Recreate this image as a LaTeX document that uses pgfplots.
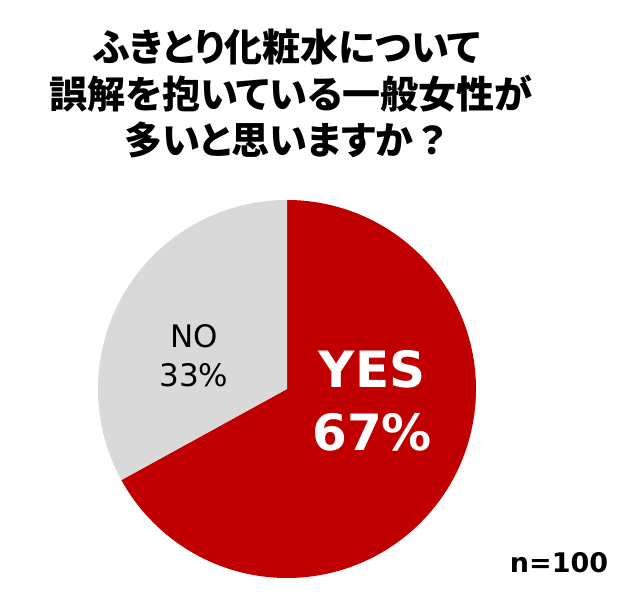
\documentclass[border=0pt]{standalone}
\usepackage{pgfplots}
\pgfplotsset{compat=1.18}
\usepackage{fontspec}
\setmainfont{DejaVu Sans}
\newfontfamily\jp[RawFeature=+palt, BoldFont={Noto Sans CJK JP Black}]{Noto Sans CJK JP}
\definecolor{yesred}{HTML}{C00000}
\definecolor{nogray}{HTML}{D9D9D9}
\def\yesval{67}
\def\noval{33}
\pgfmathsetmacro\yesstart{90-3.6*\yesval}
\pgfmathsetmacro\noend{90+3.6*\noval}
\begin{document}
\begin{tikzpicture}[x=1bp,y=1bp]
\path[use as bounding box] (0,0) rectangle (640,610);
\node[anchor=base, inner sep=0pt, font=\jp\bfseries\fontsize{38bp}{38bp}\selectfont] at (287,548) {ふきとり化粧水について};
\node[anchor=base, inner sep=0pt, font=\jp\bfseries\fontsize{38bp}{38bp}\selectfont] at (291,501) {誤解を抱いている一般女性が};
\node[anchor=base, inner sep=0pt, font=\jp\bfseries\fontsize{38bp}{38bp}\selectfont] at (285,455) {多いと思いますか\,？};
\node[anchor=base, inner sep=0pt, font=\bfseries\fontsize{27bp}{27bp}\selectfont] at (559,37) {n=100};
\begin{axis}[at={(287bp,221bp)}, anchor=origin, scale only axis, width=378bp, height=378bp,
  xmin=-1, xmax=1, ymin=-1, ymax=1, hide axis, clip=false]
\addplot[draw=none, fill=yesred, domain=\yesstart:90, samples=241] ({cos(x)},{sin(x)}) -- (axis cs:0,0) -- cycle;
\addplot[draw=none, fill=nogray, domain=90:\noend, samples=120] ({cos(x)},{sin(x)}) -- (axis cs:0,0) -- cycle;
\node[anchor=base, inner sep=0pt, text=white, font=\bfseries\fontsize{50bp}{50bp}\selectfont] at (axis cs:0.45,0.01) {YES};
\node[anchor=base, inner sep=0pt, text=white, font=\bfseries\fontsize{50bp}{50bp}\selectfont] at (axis cs:0.45,-0.323) {67\%};
\node[anchor=base, inner sep=0pt, text=black, font=\fontsize{31bp}{31bp}\selectfont] at (axis cs:-0.492,0.222) {NO};
\node[anchor=base, inner sep=0pt, text=black, font=\fontsize{31bp}{31bp}\selectfont] at (axis cs:-0.492,0.011) {33\%};
\end{axis}
\end{tikzpicture}
\end{document}
